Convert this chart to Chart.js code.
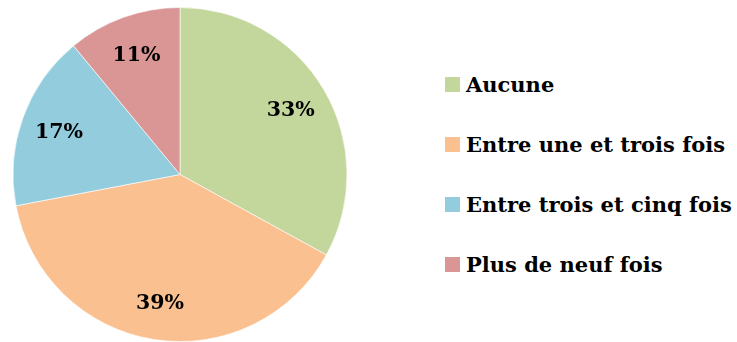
<!DOCTYPE html>
<html>
<head>
<meta charset="utf-8">
<script src="https://cdn.jsdelivr.net/npm/chart.js@4/dist/chart.umd.min.js"></script>
<style>
  html, body { margin: 0; padding: 0; background: #fff; }
  #wrap { position: relative; width: 737px; height: 342px; overflow: hidden; }
  #pieBox { position: absolute; left: 0; top: 0; width: 360px; height: 342px; }
  #legend { position: absolute; left: 445px; top: 54px; }
  .item { display: flex; align-items: center; height: 60px; }
  .swatch { width: 15px; height: 15px; margin-right: 6px; flex: none; }
  .label { font: bold 21px "DejaVu Serif", serif; color: #000; white-space: nowrap; }
</style>
</head>
<body>
<div id="wrap">
  <div id="pieBox"><canvas id="pie"></canvas></div>
  <div id="legend"></div>
</div>
<script>
const categories = ['Aucune', 'Entre une et trois fois', 'Entre trois et cinq fois', 'Plus de neuf fois'];
const shares = [33, 39, 17, 11];
const sliceColors = ['#C3D69B', '#FAC090', '#93CDDD', '#D99694'];

// legend on the right, built from the same arrays
const legendEl = document.getElementById('legend');
categories.forEach((name, i) => {
  const row = document.createElement('div');
  row.className = 'item';
  const sw = document.createElement('span');
  sw.className = 'swatch';
  sw.style.background = sliceColors[i];
  const txt = document.createElement('span');
  txt.className = 'label';
  txt.textContent = name;
  row.appendChild(sw);
  row.appendChild(txt);
  legendEl.appendChild(row);
});

// percent labels inside each slice
const percentLabels = {
  id: 'percentLabels',
  afterDatasetsDraw(chart) {
    const ctx = chart.ctx;
    const meta = chart.getDatasetMeta(0);
    ctx.save();
    ctx.font = 'bold 20.5px "DejaVu Serif", serif';
    ctx.fillStyle = '#000';
    ctx.textAlign = 'center';
    ctx.textBaseline = 'middle';
    meta.data.forEach((arc, i) => {
      const p = arc.getProps(['x', 'y', 'startAngle', 'endAngle', 'outerRadius'], true);
      const mid = (p.startAngle + p.endAngle) / 2;
      const r = p.outerRadius * 0.77;
      ctx.fillText(shares[i] + '%', p.x + Math.cos(mid) * r, p.y + Math.sin(mid) * r + 2);
    });
    ctx.restore();
  }
};

new Chart(document.getElementById('pie'), {
  type: 'pie',
  data: {
    labels: categories,
    datasets: [{
      data: shares,
      backgroundColor: sliceColors,
      borderColor: 'rgba(255,255,255,0.6)',
      borderWidth: 1
    }]
  },
  options: {
    responsive: true,
    maintainAspectRatio: false,
    animation: false,
    layout: { padding: { top: 7, bottom: 0, left: 0, right: 0 } },
    plugins: {
      legend: { display: false },
      tooltip: { enabled: false }
    }
  },
  plugins: [percentLabels]
});
</script>
</body>
</html>
